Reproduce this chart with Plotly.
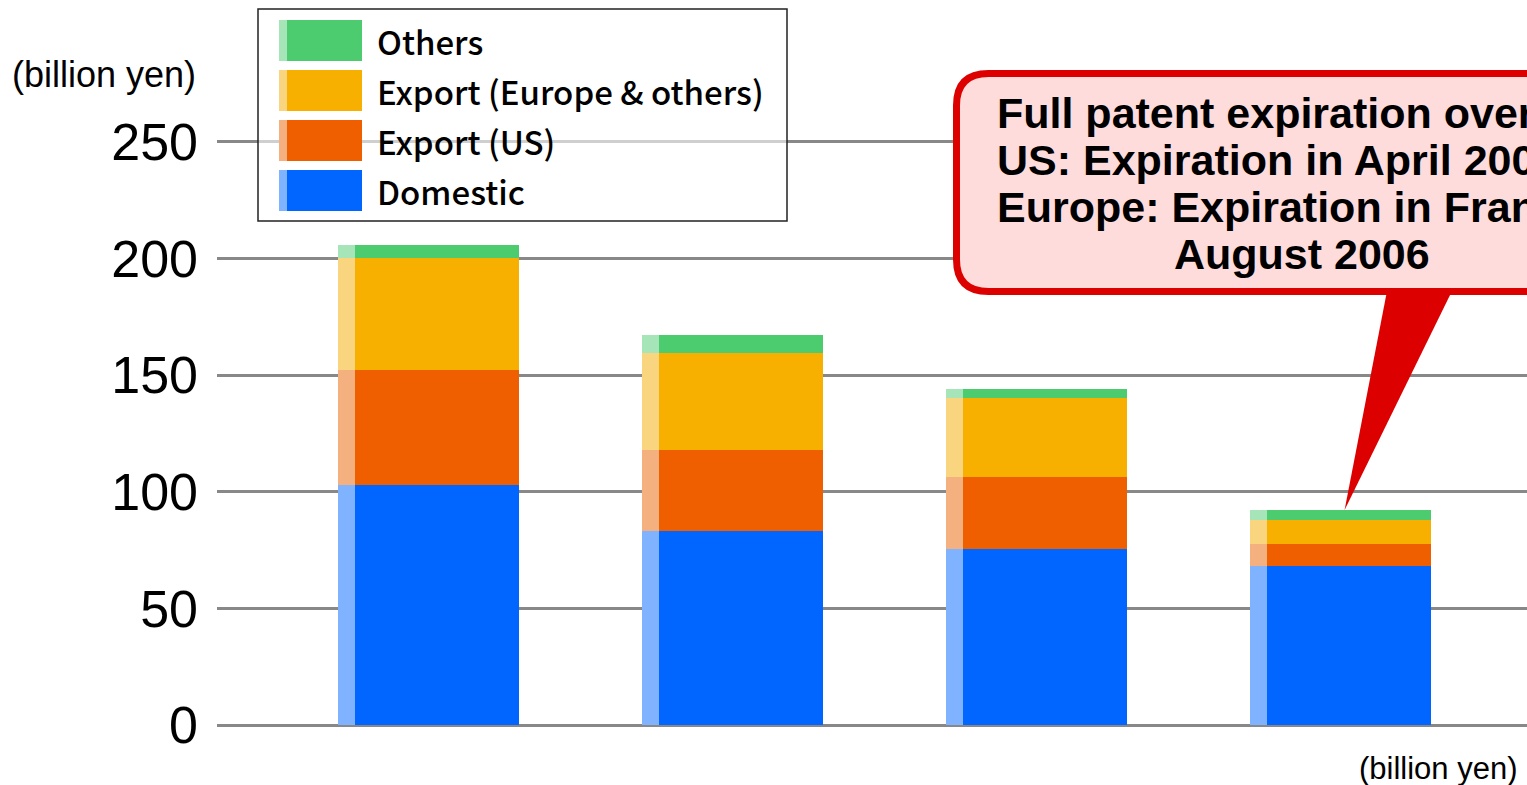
import numpy as np
import plotly.graph_objects as go

# Four fiscal periods (positions along the x axis); values in billion yen
periods = [0, 1, 2, 3]
domestic = [102.7, 83.0, 75.3, 68.0]
export_us = [49.3, 34.7, 30.9, 9.5]
export_europe = [48.2, 41.6, 34.0, 10.3]
others = [5.6, 7.7, 3.7, 4.3]

y_ticks = [0, 50, 100, 150, 200, 250]

series_names = ["Domestic", "Export (US)", "Export (Europe & others)", "Others"]
series_values = [domestic, export_us, export_europe, others]
main_colors = ["#0066FF", "#EF5F00", "#F7B000", "#4DCB6F"]
strip_colors = ["#80B3FF", "#F5B080", "#F9D57F", "#A6E5B7"]

# Figure geometry (pixels)
FIG_W, FIG_H = 1527, 785
M_L, M_B = 217, 60
PX_PER_X = 304.0
PX_PER_Y = 2.333
CENTER0 = 428.0  # pixel centre of the first bar

x_lo = (M_L - CENTER0) / PX_PER_X
x_hi = x_lo + (FIG_W - M_L) / PX_PER_X
y_hi = (FIG_H - M_B) / PX_PER_Y


def xd(px):
    return (px - CENTER0) / PX_PER_X


def yd(py):
    return (FIG_H - M_B - py) / PX_PER_Y


def xp(px):
    return (px - M_L) / (FIG_W - M_L)


def yp(py):
    return (FIG_H - M_B - py) / (FIG_H - M_B)


strip_w = 17 / PX_PER_X
main_w = 164 / PX_PER_X
strip_off = -90.5 / PX_PER_X
main_off = strip_off + strip_w

fig = go.Figure()

base = np.zeros(len(periods))
for name, vals, c_main, c_strip in zip(series_names, series_values, main_colors, strip_colors):
    vals = np.array(vals, dtype=float)
    fig.add_trace(go.Bar(
        x=periods, y=vals, base=base, width=strip_w, offset=strip_off,
        marker=dict(color=c_strip, line=dict(width=0)), name=name, showlegend=False,
    ))
    fig.add_trace(go.Bar(
        x=periods, y=vals, base=base, width=main_w, offset=main_off,
        marker=dict(color=c_main, line=dict(width=0)), name=name, showlegend=False,
    ))
    base = base + vals

totals = base

shapes = []
annotations = []

# Legend box with swatches
shapes.append(dict(type="rect", xref="x", yref="y",
                   x0=xd(258), x1=xd(787), y0=yd(221), y1=yd(9),
                   line=dict(color="#222222", width=1.5), fillcolor="rgba(255,255,255,0.6)",
                   layer="above"))

legend_rows = list(zip(series_names, main_colors, strip_colors))[::-1]
for i, (name, c_main, c_strip) in enumerate(legend_rows):
    top = 20 + 50 * i
    bot = top + 41
    shapes.append(dict(type="rect", xref="x", yref="y", x0=xd(279), x1=xd(287),
                       y0=yd(bot), y1=yd(top), fillcolor=c_strip, line=dict(width=0),
                       layer="above"))
    shapes.append(dict(type="rect", xref="x", yref="y", x0=xd(287), x1=xd(362),
                       y0=yd(bot), y1=yd(top), fillcolor=c_main, line=dict(width=0),
                       layer="above"))
    annotations.append(dict(x=xd(375), y=yd((top + bot) / 2), xref="x", yref="y",
                            text=name, showarrow=False, xanchor="left", yanchor="middle",
                            font=dict(family="Noto Sans CJK JP", size=33, color="#000000",
                                      weight=500)))

# Callout box with pointer to the last bar
L, R, T, B, r = 956.5, 1643.5, 73.5, 291.5, 32
pts = [
    ("M", L + r, T), ("L", R - r, T), ("Q", R, T, R, T + r), ("L", R, B - r),
    ("Q", R, B, R - r, B), ("L", L + r, B), ("Q", L, B, L, B - r), ("L", L, T + r),
    ("Q", L, T, L + r, T),
]
path = ""
for p in pts:
    cmd = p[0]
    coords = p[1:]
    seg = []
    for j in range(0, len(coords), 2):
        seg.append(f"{xd(coords[j]):.5f},{yd(coords[j + 1]):.4f}")
    path += cmd + " ".join(seg) + " "
path += "Z"
shapes.append(dict(type="path", xref="x", yref="y", path=path,
                   fillcolor="#FFDCDC", line=dict(color="#DD0000", width=7), layer="above"))

tip_x = periods[3] + 0.015
tip_y = totals[3]
shapes.append(dict(type="path", xref="x", yref="y",
                   path=f"M{xd(1387):.5f},{yd(291):.4f} L{xd(1452):.5f},{yd(291):.4f} "
                        f"L{tip_x:.5f},{tip_y:.4f} Z",
                   fillcolor="#DD0000", line=dict(width=0), layer="above"))

callout_font = dict(family="Liberation Sans, Arial", size=43, color="#000000", weight="bold")
callout_lines = [
    "Full patent expiration overseas",
    "US: Expiration in April 2006",
    "Europe: Expiration in France in",
]
for k, line in enumerate(callout_lines):
    annotations.append(dict(x=xd(995), y=yd(113 + 47 * k), xref="x", yref="y", text=line,
                            showarrow=False, xanchor="left", yanchor="middle",
                            font=callout_font))
annotations.append(dict(x=xd(1302), y=yd(254), xref="x", yref="y", text="August 2006",
                        showarrow=False, xanchor="center", yanchor="middle", font=callout_font))

# Unit labels (outside the plotting area, so placed in paper coordinates)
annotations.append(dict(x=xp(104), y=yp(75), xref="paper", yref="paper",
                        text="(billion yen)", showarrow=False, xanchor="center",
                        yanchor="middle", font=dict(family="Liberation Sans, Arial", size=36,
                                                    color="#000000")))
annotations.append(dict(x=xp(1438), y=yp(768), xref="paper", yref="paper",
                        text="(billion yen)", showarrow=False, xanchor="center",
                        yanchor="middle", font=dict(family="Liberation Sans, Arial", size=31,
                                                    color="#000000")))

fig.update_layout(
    width=FIG_W, height=FIG_H,
    margin=dict(l=M_L, r=0, t=0, b=M_B, pad=0),
    paper_bgcolor="white", plot_bgcolor="white",
    barmode="overlay", bargap=0,
    showlegend=False,
    shapes=shapes, annotations=annotations,
    xaxis=dict(range=[x_lo, x_hi], showgrid=False, zeroline=False, showticklabels=False,
               showline=False, fixedrange=True),
    yaxis=dict(range=[0, y_hi], tickvals=y_ticks, showgrid=True, gridcolor="#888888",
               gridwidth=3, zeroline=True, zerolinecolor="#888888", zerolinewidth=3,
               showline=False, ticks="",
               tickfont=dict(family="Liberation Sans, Arial", size=52, color="#000000"),
               ticklabelstandoff=18, fixedrange=True),
)

fig.write_html("out.html")
